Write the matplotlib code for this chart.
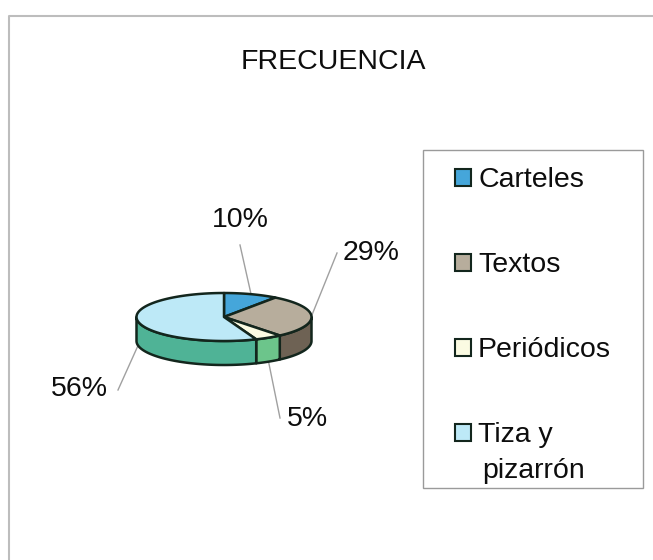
import numpy as np
import matplotlib
matplotlib.use('Agg')
import matplotlib.pyplot as plt
from matplotlib.patches import Polygon, Rectangle

plt.rcParams['font.family'] = ['Liberation Sans', 'DejaVu Sans']

# Data
title = 'FRECUENCIA'
labels = ['Carteles', 'Textos', 'Periódicos', 'Tiza y\npizarrón']
values = [10, 29, 5, 56]

# Colours (top face / side face)
top_colors = ['#45a6da', '#b7ad9c', '#fbfbe2', '#bde9f7']
side_colors = ['#2f7fae', '#6e6254', '#6cc58b', '#4fb396']
edge = '#13261d'

# Layout (pixel coordinates, y downward)
W, H = 653, 560
CX, CY, A, B, DEPTH = 224, 317, 87.5, 24, 24
label_xy = [(240, 220), (371, 253), (307, 419), (79, 389)]
leader_end = [(240, 245), (337, 253), (280, 418), (118, 390)]
FS = 20.5
TXT = '#0d0d0d'

fig = plt.figure(figsize=(W / 100, H / 100), dpi=100)
ax = fig.add_axes([0, 0, 1, 1])
ax.set_xlim(0, W)
ax.set_ylim(H, 0)
ax.axis('off')


def ell(theta, depth=0.0):
    t = np.radians(theta)
    return CX + A * np.sin(t), CY - B * np.cos(t) + depth


# slice angles (clockwise from 12 o'clock)
fracs = np.array(values, dtype=float) / sum(values)
ends = np.cumsum(fracs) * 360
starts = ends - fracs * 360

# side faces (only the front half, 90..270 deg, is visible)
for s, e, col in zip(starts, ends, side_colors):
    lo, hi = max(s, 90), min(e, 270)
    if hi <= lo:
        continue
    th = np.linspace(lo, hi, 80)
    xt, yt = ell(th)
    xb, yb = ell(th[::-1], DEPTH)
    pts = np.column_stack([np.r_[xt, xb], np.r_[yt, yb]])
    ax.add_patch(Polygon(pts, closed=True, facecolor=col, edgecolor=edge,
                         linewidth=1.8, joinstyle='round', zorder=2))

# top faces
for s, e, col in zip(starts, ends, top_colors):
    th = np.linspace(s, e, 120)
    xt, yt = ell(th)
    pts = np.column_stack([np.r_[CX, xt], np.r_[CY, yt]])
    ax.add_patch(Polygon(pts, closed=True, facecolor=col, edgecolor=edge,
                         linewidth=1.8, joinstyle='round', zorder=3))

# percentage labels with leader lines
for s, e, v, (lx, ly), (ex, ey) in zip(starts, ends, values, label_xy, leader_end):
    mid = (s + e) / 2
    front = 90 < mid < 270
    px, py = ell(mid, DEPTH if front else 0)
    ax.plot([px, ex], [py, ey], color='#a0a0a0', linewidth=1, zorder=1)
    ax.text(lx, ly, f'{v}%', fontsize=FS, ha='center', va='center', color=TXT)

# title
ax.text(333, 62, title, fontsize=FS, ha='center', va='center', color=TXT)

# legend box
ax.add_patch(Rectangle((423, 150), 220, 338, facecolor='white', edgecolor='#9a9a9a',
                       linewidth=1, zorder=1))
for i, (lab, col) in enumerate(zip(labels, top_colors)):
    yc = 177 + 85 * i
    ax.add_patch(Rectangle((455, yc - 8.5), 16, 17, facecolor=col, edgecolor=edge,
                           linewidth=1.5, zorder=4))
    for j, line in enumerate(lab.split('\n')):
        ax.text(478 + 4 * j, yc + 10 + 36 * j, line, fontsize=FS, ha='left',
                va='baseline', color=TXT)

# outer chart frame (left and top edges visible)
ax.plot([9, 9, W + 5], [H + 5, 16, 16], color='#bdbdbd', linewidth=1.5, zorder=0)

fig.savefig('out.png', dpi=100, facecolor='white')
